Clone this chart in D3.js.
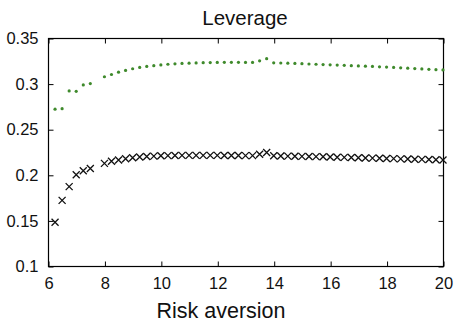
<!DOCTYPE html>
<html>
<head>
<meta charset="utf-8">
<script src="https://cdn.jsdelivr.net/npm/d3@7"></script>
<style>
  html, body { margin: 0; padding: 0; background: #fff; }
  svg { display: block; }
  text { font-family: "Liberation Sans", Arial, Helvetica, sans-serif; fill: #111; }
</style>
</head>
<body>
<svg id="chart" width="454" height="323"></svg>
<script>
const riskAversion = [6.25,6.5,6.75,7,7.25,7.5,
  8,8.25,8.5,8.75,9,9.25,9.5,9.75,10,10.25,10.5,10.75,11,11.25,11.5,11.75,
  12,12.25,12.5,12.75,13,13.25,13.5,13.75,14,14.25,14.5,14.75,15,15.25,15.5,15.75,
  16,16.25,16.5,16.75,17,17.25,17.5,17.75,18,18.25,18.5,18.75,19,19.25,19.5,19.75,20];

const greenSeries = [0.272,0.2725,0.292,0.2915,0.2985,0.300,
  0.3075,0.3100,0.3125,0.3145,0.3163,0.3177,0.3188,0.3197,0.3205,0.3212,0.3217,0.3221,0.3224,0.3227,0.3229,0.3231,
  0.3232,0.3233,0.3233,0.3233,0.3232,0.3232,0.3250,0.3273,0.3228,0.3226,0.3224,0.3221,0.3218,0.3215,0.3212,0.3209,
  0.3206,0.3203,0.3200,0.3197,0.3194,0.3191,0.3188,0.3184,0.3181,0.3177,0.3173,0.3169,0.3165,0.3161,0.3157,0.3153,0.3150];

const blackSeries = [0.148,0.172,0.187,0.200,0.2045,0.207,
  0.2125,0.2148,0.2162,0.2176,0.2187,0.2195,0.2201,0.2205,0.2208,0.2210,0.2212,0.2213,0.2213,0.2213,0.2213,0.2213,
  0.2213,0.2212,0.2212,0.2211,0.2210,0.2210,0.2225,0.2245,0.2208,0.2207,0.2205,0.2204,0.2202,0.2201,0.2199,0.2197,
  0.2195,0.2193,0.2191,0.2189,0.2187,0.2185,0.2183,0.2181,0.2179,0.2177,0.2175,0.2173,0.2171,0.2169,0.2167,0.2165,0.2163];

const xTicks = [6,8,10,12,14,16,18,20];
const yTicks = [0.1,0.15,0.2,0.25,0.3,0.35];
const yTickLabels = ["0.1","0.15","0.2","0.25","0.3","0.35"];
const titleText = "Leverage";
const xLabelText = "Risk aversion";

const svg = d3.select("#chart");
const m = {left: 48, right: 443, top: 38, bottom: 266};

const x = d3.scaleLinear().domain([6, 20]).range([m.left, m.right]);
const y = d3.scaleLinear().domain([0.1, 0.35]).range([m.bottom, m.top]);

// box
svg.append("rect")
  .attr("x", m.left + 0.5).attr("y", m.top + 0.5)
  .attr("width", m.right - m.left).attr("height", m.bottom - m.top)
  .attr("fill", "none").attr("stroke", "#000").attr("stroke-width", 1.2);

const tickLen = 5;
// x axis (bottom) with inward ticks
const xAxis = d3.axisBottom(x).tickValues(xTicks).tickSizeInner(-tickLen).tickSizeOuter(0).tickPadding(tickLen + 6).tickFormat(d3.format("d"));
const gx = svg.append("g").attr("transform", `translate(0.5,${m.bottom + 0.5})`).call(xAxis);
gx.select(".domain").remove();
gx.selectAll("text").style("font-size", "16.5px").attr("fill", "#111");

// x ticks top
const gxt = svg.append("g").attr("transform", `translate(0.5,${m.top + 0.5})`)
  .call(d3.axisTop(x).tickValues(xTicks).tickSizeInner(-tickLen).tickSizeOuter(0).tickFormat(""));
gxt.select(".domain").remove();

// y axis left
const yAxis = d3.axisLeft(y).tickValues(yTicks).tickSizeInner(-tickLen).tickSizeOuter(0).tickPadding(tickLen + 5)
  .tickFormat((d, i) => yTickLabels[i]);
const gy = svg.append("g").attr("transform", `translate(${m.left + 0.5},0.5)`).call(yAxis);
gy.select(".domain").remove();
gy.selectAll("text").style("font-size", "16.5px").attr("fill", "#111");

// y ticks right
const gyr = svg.append("g").attr("transform", `translate(${m.right + 0.5},0.5)`)
  .call(d3.axisRight(y).tickValues(yTicks).tickSizeInner(-tickLen).tickSizeOuter(0).tickFormat(""));
gyr.select(".domain").remove();

// green dots
svg.append("g").selectAll("circle")
  .data(riskAversion.map((r, i) => [r, greenSeries[i]]))
  .join("circle")
  .attr("cx", d => x(d[0])).attr("cy", d => y(d[1]))
  .attr("r", 1.6).attr("fill", "#3f8a2c");

// black crosses
const s = 3.5;
svg.append("g").selectAll("path")
  .data(riskAversion.map((r, i) => [r, blackSeries[i]]))
  .join("path")
  .attr("d", d => {
    const cx = x(d[0]), cy = y(d[1]);
    return `M${cx - s},${cy - s}L${cx + s},${cy + s}M${cx - s},${cy + s}L${cx + s},${cy - s}`;
  })
  .attr("stroke", "#111").attr("stroke-width", 1.3).attr("fill", "none");

// title
svg.append("text").attr("x", 245).attr("y", 25).attr("text-anchor", "middle")
  .style("font-size", "20.5px").text(titleText);

// x label
svg.append("text").attr("x", 221).attr("y", 317.5).attr("text-anchor", "middle")
  .style("font-size", "21.5px").text(xLabelText);
</script>
</body>
</html>
